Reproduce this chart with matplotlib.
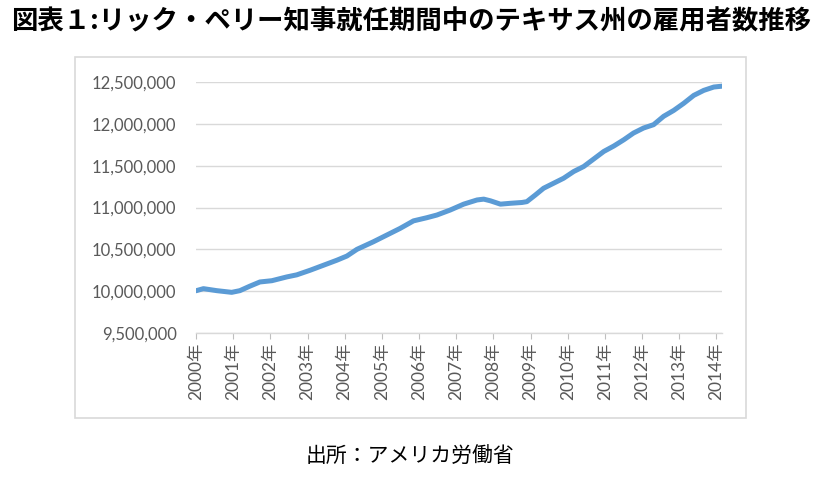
import matplotlib.pyplot as plt
from matplotlib.patches import Rectangle
from matplotlib.ticker import FuncFormatter

# Texas employment (decimal year, persons)
years = [2000.00, 2000.20, 2000.56, 2000.96, 2001.18, 2001.45, 2001.72, 2002.04,
         2002.44, 2002.71, 2003.07, 2003.43, 2003.79, 2004.06, 2004.33, 2004.77,
         2005.22, 2005.49, 2005.85, 2006.21, 2006.48, 2006.84, 2007.20, 2007.56,
         2007.74, 2007.92, 2008.19, 2008.45, 2008.77, 2008.90, 2009.13, 2009.35,
         2009.62, 2009.89, 2010.16, 2010.43, 2010.70, 2010.97, 2011.24, 2011.51,
         2011.77, 2012.04, 2012.31, 2012.58, 2012.85, 2013.12, 2013.39, 2013.66,
         2013.93, 2014.15]
employed = [10005000, 10030000, 10006000, 9986000, 10006000, 10060000, 10110000, 10125000,
            10170000, 10195000, 10250000, 10310000, 10370000, 10420000, 10500000, 10590000,
            10690000, 10750000, 10840000, 10878000, 10910000, 10970000, 11040000, 11090000,
            11100000, 11080000, 11040000, 11050000, 11060000, 11070000, 11150000, 11230000,
            11290000, 11350000, 11430000, 11490000, 11580000, 11670000, 11735000, 11810000,
            11890000, 11950000, 11990000, 12090000, 12160000, 12245000, 12340000, 12400000,
            12440000, 12450000]
tick_years = list(range(2000, 2015))
tick_labels = [f'{y}年' for y in tick_years]

title = '図表１:リック・ペリー知事就任期間中のテキサス州の雇用者数推移'
source = '出所：アメリカ労働省'

fig = plt.figure(figsize=(8.22, 4.79), dpi=100)
fig.patch.set_facecolor('white')

# chart frame
fig.patches.append(Rectangle((75 / 822, 1 - 418 / 479), 671 / 822, 361 / 479,
                             transform=fig.transFigure, fill=False,
                             edgecolor='#d9d9d9', linewidth=1.2))

ax = fig.add_axes([196 / 822, 1 - 333 / 479, 526 / 822, 251 / 479])
ax.plot(years, employed, color='#5b9bd5', linewidth=3.6,
        solid_capstyle='round', solid_joinstyle='round')

ax.set_ylim(9500000, 12500000)
ax.set_yticks(range(9500000, 12500001, 500000))
ax.yaxis.set_major_formatter(FuncFormatter(lambda v, p: f'{int(v):,}'))
ax.set_xlim(years[0], years[-1])
ax.set_xticks(tick_years)
ax.set_xticklabels(tick_labels, rotation=90, family=['Lato', 'Noto Sans CJK JP'])

ax.grid(axis='y', color='#d9d9d9', linewidth=1)
ax.set_axisbelow(True)
for s in ['top', 'right', 'left']:
    ax.spines[s].set_visible(False)
ax.spines['bottom'].set_color('#d9d9d9')
ax.spines['bottom'].set_linewidth(1)

ax.tick_params(axis='y', length=0, pad=14, labelsize=12, labelcolor='#595959')
ax.tick_params(axis='x', length=4, color='#bfbfbf', pad=3, labelsize=12.5,
               labelcolor='#595959')
for lbl in ax.get_yticklabels():
    lbl.set_family('Lato')

fig.text(0.5, 1 - 22 / 479, title, ha='center', va='center', fontsize=19,
         fontweight='bold', family=['Noto Sans CJK JP', 'DejaVu Sans'])
fig.text(410 / 822, 1 - 457 / 479, source, ha='center', va='center', fontsize=15,
         family=['Noto Sans CJK JP', 'DejaVu Sans'])

fig.savefig('out.png', dpi=100)
